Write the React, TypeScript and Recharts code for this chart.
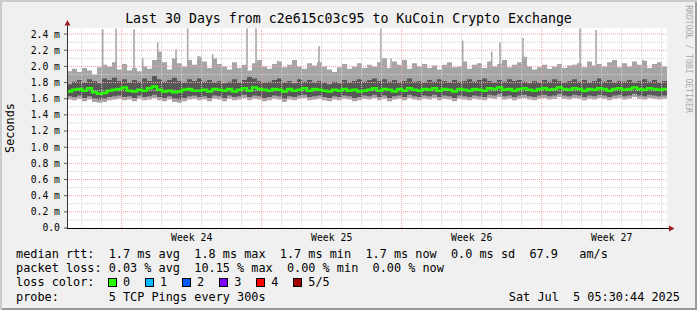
import React from "react";
import { ComposedChart, Area, Line, XAxis, YAxis, ReferenceLine, CartesianGrid } from "recharts";

// smoke bands, 4 samples per day over 30 days (values in ms)
const hi = [
  1.94, 1.97, 1.93, 1.98, 1.95, 1.90, 1.99, 2.02, 2.00, 2.05,
  1.96, 2.03, 1.95, 1.98, 1.94, 2.00, 1.97, 2.08, 2.18, 2.05,
  1.96, 2.10, 2.04, 2.00, 2.08, 2.02, 2.12, 2.06, 1.98, 2.10,
  2.03, 2.00, 1.96, 2.05, 1.98, 2.02, 1.95, 2.04, 2.08, 2.00,
  1.97, 2.03, 2.06, 1.99, 2.02, 2.08, 2.00, 1.97, 2.04, 2.01,
  2.05, 2.00, 1.96, 1.93, 1.99, 2.03, 1.97, 2.00, 2.04, 1.98,
  2.02, 2.00, 2.05, 2.10, 1.98, 2.06, 2.02, 2.08, 1.97, 2.04,
  2.00, 2.03, 1.98, 2.01, 1.96, 2.02, 2.05, 1.99, 2.00, 2.06,
  1.97, 2.02, 2.04, 1.98, 2.06, 2.00, 2.03, 2.08, 1.99, 2.02,
  2.05, 2.12, 2.00, 1.96, 1.99, 2.02, 1.97, 2.00, 2.03, 1.98,
  2.01, 2.02, 2.04, 1.99, 2.06, 2.01, 2.03, 2.00, 2.05, 2.08,
  1.99, 2.04, 2.00, 2.06, 2.02, 2.07, 1.98, 2.03, 2.05, 2.00,
];
const darkHi = [
  1.78, 1.81, 1.83, 1.80, 1.84, 1.82, 1.79, 1.85, 1.83, 1.86,
  1.82, 1.84, 1.80, 1.83, 1.81, 1.85, 1.82, 1.88, 1.84, 1.81,
  1.83, 1.86, 1.82, 1.80, 1.84, 1.82, 1.85, 1.81, 1.83, 1.80,
  1.82, 1.79, 1.81, 1.84, 1.80, 1.83, 1.87, 1.85, 1.82, 1.80,
  1.81, 1.83, 1.85, 1.80, 1.82, 1.79, 1.84, 1.81, 1.83, 1.80,
  1.82, 1.80, 1.78, 1.81, 1.79, 1.83, 1.80, 1.82, 1.84, 1.81,
  1.83, 1.85, 1.82, 1.84, 1.81, 1.83, 1.80, 1.82, 1.85, 1.81,
  1.82, 1.80, 1.83, 1.81, 1.84, 1.82, 1.80, 1.83, 1.81, 1.82,
  1.84, 1.81, 1.83, 1.85, 1.82, 1.80, 1.83, 1.81, 1.84, 1.82,
  1.83, 1.81, 1.79, 1.82, 1.80, 1.83, 1.81, 1.84, 1.82, 1.80,
  1.82, 1.84, 1.81, 1.83, 1.80, 1.82, 1.85, 1.81, 1.83, 1.80,
  1.82, 1.81, 1.83, 1.80, 1.82, 1.84, 1.81, 1.83, 1.80, 1.82,
];
const darkLo = [
  1.63, 1.62, 1.64, 1.61, 1.63, 1.60, 1.59, 1.60, 1.62, 1.63,
  1.64, 1.62, 1.63, 1.61, 1.64, 1.62, 1.63, 1.65, 1.62, 1.61,
  1.63, 1.60, 1.59, 1.61, 1.63, 1.64, 1.62, 1.63, 1.61, 1.64,
  1.63, 1.61, 1.64, 1.62, 1.63, 1.65, 1.62, 1.64, 1.63, 1.61,
  1.62, 1.64, 1.63, 1.60, 1.63, 1.62, 1.64, 1.65, 1.62, 1.63,
  1.64, 1.62, 1.61, 1.63, 1.62, 1.64, 1.63, 1.61, 1.62, 1.64,
  1.63, 1.65, 1.62, 1.64, 1.61, 1.63, 1.64, 1.62, 1.65, 1.63,
  1.62, 1.64, 1.63, 1.65, 1.62, 1.64, 1.63, 1.61, 1.64, 1.63,
  1.62, 1.64, 1.63, 1.62, 1.65, 1.64, 1.66, 1.63, 1.64, 1.62,
  1.64, 1.65, 1.63, 1.62, 1.64, 1.65, 1.63, 1.64, 1.66, 1.64,
  1.63, 1.65, 1.64, 1.62, 1.64, 1.63, 1.65, 1.64, 1.62, 1.64,
  1.65, 1.63, 1.64, 1.66, 1.64, 1.63, 1.65, 1.64, 1.63, 1.64,
];
const lo = [
  1.59, 1.58, 1.60, 1.57, 1.59, 1.56, 1.55, 1.56, 1.58, 1.59,
  1.60, 1.58, 1.59, 1.57, 1.60, 1.58, 1.59, 1.61, 1.58, 1.57,
  1.59, 1.56, 1.55, 1.57, 1.59, 1.60, 1.58, 1.59, 1.57, 1.60,
  1.59, 1.57, 1.60, 1.58, 1.59, 1.61, 1.58, 1.60, 1.59, 1.57,
  1.58, 1.60, 1.59, 1.56, 1.59, 1.58, 1.60, 1.61, 1.58, 1.59,
  1.60, 1.58, 1.57, 1.59, 1.58, 1.60, 1.59, 1.57, 1.58, 1.60,
  1.59, 1.61, 1.58, 1.60, 1.57, 1.59, 1.60, 1.58, 1.61, 1.59,
  1.58, 1.60, 1.59, 1.61, 1.58, 1.60, 1.59, 1.57, 1.60, 1.59,
  1.58, 1.60, 1.59, 1.58, 1.61, 1.60, 1.62, 1.59, 1.60, 1.58,
  1.60, 1.61, 1.59, 1.58, 1.60, 1.61, 1.59, 1.60, 1.62, 1.60,
  1.59, 1.61, 1.60, 1.58, 1.60, 1.59, 1.61, 1.60, 1.58, 1.60,
  1.61, 1.59, 1.60, 1.62, 1.60, 1.59, 1.61, 1.60, 1.59, 1.60,
];
const median = [
  1.69, 1.71, 1.72, 1.70, 1.73, 1.68, 1.66, 1.67, 1.70, 1.71,
  1.72, 1.74, 1.70, 1.69, 1.71, 1.70, 1.73, 1.75, 1.71, 1.69,
  1.70, 1.68, 1.69, 1.71, 1.72, 1.70, 1.70, 1.71, 1.69, 1.72,
  1.71, 1.70, 1.72, 1.69, 1.71, 1.73, 1.70, 1.74, 1.72, 1.71,
  1.70, 1.72, 1.71, 1.69, 1.72, 1.70, 1.71, 1.73, 1.70, 1.72,
  1.71, 1.70, 1.69, 1.71, 1.70, 1.72, 1.70, 1.71, 1.69, 1.70,
  1.71, 1.73, 1.70, 1.72, 1.71, 1.69, 1.72, 1.70, 1.73, 1.71,
  1.70, 1.72, 1.71, 1.73, 1.70, 1.72, 1.71, 1.69, 1.72, 1.71,
  1.70, 1.72, 1.71, 1.70, 1.73, 1.72, 1.74, 1.71, 1.72, 1.70,
  1.72, 1.73, 1.71, 1.70, 1.72, 1.73, 1.71, 1.72, 1.74, 1.72,
  1.71, 1.73, 1.72, 1.70, 1.72, 1.71, 1.73, 1.72, 1.70, 1.72,
  1.73, 1.71, 1.72, 1.74, 1.72, 1.71, 1.73, 1.72, 1.71, 1.72,
];

// single-sample outliers (day, ms)
const spikeDay = [1.785, 2.45, 3.35, 3.785, 4.535, 5.45, 6.035, 6.6, 7.285, 9.0, 9.45, 10.535, 11.285, 12.6, 15.7, 16.2, 19.785, 21.235, 21.65, 22.8, 25.65, 26.45, 28.8];
const spikeTop = [2.46, 2.47, 2.46, 2.10, 2.30, 2.21, 2.47, 2.13, 2.15, 2.47, 2.47, 2.07, 2.06, 2.25, 2.47, 2.10, 2.32, 2.18, 2.30, 2.35, 2.47, 2.45, 2.08];

const yTicks = [0, 0.2, 0.4, 0.6, 0.8, 1.0, 1.2, 1.4, 1.6, 1.8, 2.0, 2.2, 2.4];
const yMinor = [0.1, 0.3, 0.5, 0.7, 0.9, 1.1, 1.3, 1.5, 1.7, 1.9, 2.1, 2.3];
const weekStart = [2.735, 9.735, 16.735, 23.735];
const weekMid = [6.235, 13.235, 20.235, 27.235];
const weekNames = ["Week 24", "Week 25", "Week 26", "Week 27"];
const firstMidnight = 0.735;

const lossColors = ["#26ff00", "#00b8ff", "#0059ff", "#7e00ff", "#ff0000", "#a10000"];
const lossLabels = ["0", "1", "2", "3", "4", "5/5"];

const legendLines = [
  "median rtt:  1.7 ms avg  1.8 ms max  1.7 ms min  1.7 ms now  0.0 ms sd  67.9   am/s",
  "packet loss: 0.03 % avg  10.15 % max  0.00 % min  0.00 % now",
  "loss color:",
  "probe:       5 TCP Pings every 300s",
];

const data = hi.map((h, i) => ({
  t: i / 4,
  outer: [lo[i], h],
  inner: [darkLo[i], darkHi[i]],
  med: median[i],
}));
data.push({ ...data[data.length - 1], t: 30 });

const dayLines = Array.from({ length: 30 }, (_, k) => firstMidnight + k).filter(
  (d) => !weekStart.some((w) => Math.abs(w - d) < 0.01)
);

const mono = '"DejaVu Sans Mono", monospace';
const minorGrid = "#cfcfcf";
const majorGrid = "#f2a0a0";

export default function App() {
  return (
    <div
      style={{
        position: "fixed",
        left: 0,
        top: 0,
        width: 697,
        height: 310,
        background: "#f0f0f0",
        boxShadow: "inset 2px 2px 0 #cbcbcb, inset -2px -2px 0 #999",
        fontFamily: mono,
        color: "#000",
        overflow: "hidden",
      }}
    >
      <div style={{ position: "absolute", left: 0, top: 11, width: 697, textAlign: "center", fontSize: 13.25, lineHeight: "16px" }}>
        Last 30 Days from c2e615c03c95 to KuCoin Crypto Exchange
      </div>
      <div
        style={{
          position: "absolute",
          left: 10,
          top: 128,
          fontSize: 11.85,
          lineHeight: "14px",
          transform: "translate(-50%, -50%) rotate(-90deg)",
          whiteSpace: "pre",
        }}
      >
        Seconds
      </div>
      <div
        style={{
          position: "absolute",
          left: 688.5,
          top: 59,
          fontSize: 8.15,
          lineHeight: "10px",
          color: "#a8a8a8",
          transform: "translate(-50%, -50%) rotate(90deg)",
          whiteSpace: "pre",
        }}
      >
        RRDTOOL / TOBI OETIKER
      </div>

      <div style={{ position: "absolute", left: 0, top: 0 }}>
        <ComposedChart width={697} height={310} data={data} margin={{ top: 28, right: 30, bottom: 52, left: 7 }}>
          <CartesianGrid fill="#fff" horizontal={false} vertical={false} stroke="none" />
          <XAxis
            type="number"
            dataKey="t"
            domain={[0, 30]}
            allowDataOverflow
            ticks={weekMid}
            interval={0}
            tickFormatter={(v) => weekNames[weekMid.indexOf(v)]}
            tickLine={false}
            axisLine={false}
            tickSize={4}
            tickMargin={2}
            height={30}
            tick={{ fontFamily: mono, fontSize: 9.8, fill: "#000" }}
          />
          <YAxis
            type="number"
            domain={[0, 2.475]}
            allowDataOverflow
            ticks={yTicks}
            interval={0}
            tickFormatter={(v) => (v === 0 ? "0.0" : `${v.toFixed(1)} m`)}
            width={60}
            tickSize={3}
            tickMargin={4}
            axisLine={false}
            tickLine={{ stroke: "#555" }}
            tick={{ fontFamily: mono, fontSize: 9.75, fill: "#000" }}
          />
          <Area type="stepAfter" dataKey="outer" stroke="none" fill="#a5a5a5" fillOpacity={1} isAnimationActive={false} />
          <Area type="stepAfter" dataKey="inner" stroke="none" fill="#575757" fillOpacity={1} isAnimationActive={false} />
          {spikeDay.map((d, i) => (
            <Line
              key={`spike-${i}`}
              data={[
                { t: d, v: 1.95 },
                { t: d, v: spikeTop[i] },
              ]}
              dataKey="v"
              type="linear"
              stroke="#a5a5a5"
              strokeWidth={1.6}
              dot={false}
              isAnimationActive={false}
            />
          ))}
          {yMinor.map((v) => (
            <ReferenceLine key={`ym-${v}`} y={v} stroke={minorGrid} strokeDasharray="1 1" />
          ))}
          {dayLines.map((d) => (
            <ReferenceLine key={`xm-${d}`} x={d} stroke={minorGrid} strokeDasharray="1 1" />
          ))}
          {yTicks.slice(1).map((v) => (
            <ReferenceLine key={`yM-${v}`} y={v} stroke={majorGrid} strokeDasharray="1 1" />
          ))}
          {weekStart.map((d) => (
            <ReferenceLine key={`xM-${d}`} x={d} stroke={majorGrid} strokeDasharray="1 1" />
          ))}
          <Line type="stepAfter" dataKey="med" stroke="#26ff00" strokeWidth={2.5} dot={false} isAnimationActive={false} />
        </ComposedChart>
      </div>

      <svg width={697} height={310} style={{ position: "absolute", left: 0, top: 0, pointerEvents: "none" }}>
        <line x1={67.5} y1={228} x2={67.5} y2={22} stroke="#333" strokeWidth={1} />
        <line x1={67} y1={228.5} x2={671} y2={228.5} stroke="#000" strokeWidth={1} />
        <polygon points="64.5,25.5 70.5,25.5 67.5,20" fill="#9a2020" />
        <polygon points="669,225.5 669,231.5 674.5,228.5" fill="#9a2020" />
      </svg>

      {legendLines.map((line, i) => (
        <div
          key={i}
          style={{
            position: "absolute",
            left: 16,
            top: 246.9 + i * 14.2,
            fontSize: 11.85,
            lineHeight: "14.2px",
            whiteSpace: "pre",
          }}
        >
          {line}
        </div>
      ))}
      {lossColors.map((c, i) => (
        <React.Fragment key={c}>
          <div
            style={{
              position: "absolute",
              left: 108 + i * 37.06,
              top: 278,
              width: 7,
              height: 7,
              background: c,
              border: "1px solid #000",
            }}
          />
          <div
            style={{
              position: "absolute",
              left: 123 + i * 37.06,
              top: 275.2,
              fontSize: 11.85,
              lineHeight: "14.2px",
              whiteSpace: "pre",
            }}
          >
            {lossLabels[i]}
          </div>
        </React.Fragment>
      ))}
      <div
        style={{
          position: "absolute",
          right: 17,
          top: 289.5,
          fontSize: 11.85,
          lineHeight: "14.2px",
          whiteSpace: "pre",
        }}
      >
        Sat Jul  5 05:30:44 2025
      </div>
    </div>
  );
}
